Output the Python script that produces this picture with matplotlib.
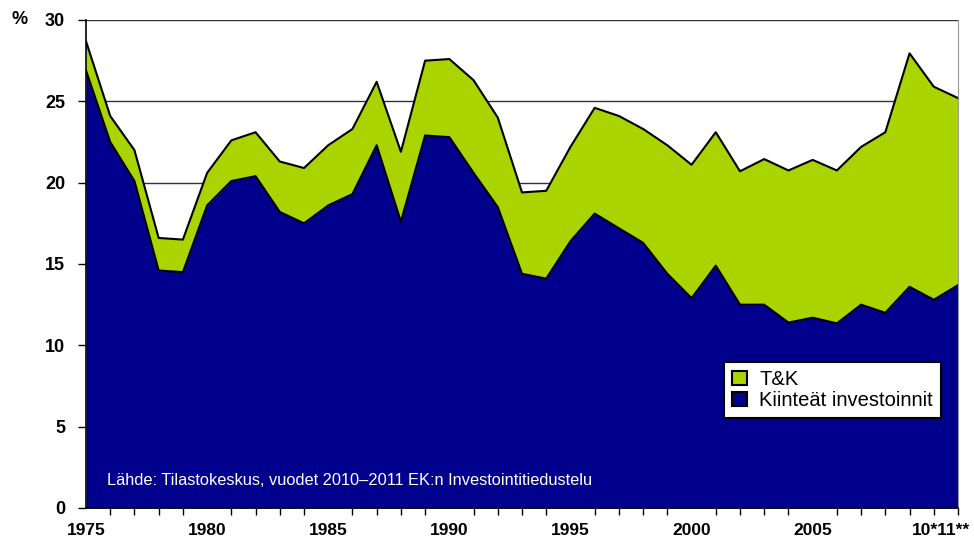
import numpy as np
import matplotlib.pyplot as plt

# vuodet 1975-2011, osuudet % (luettu kuvasta)
years = np.arange(1975, 2012)
kiinteat = [26.9, 22.5, 20.1, 14.6, 14.5, 18.6, 20.1, 20.4, 18.2, 17.5,
            18.6, 19.3, 22.3, 17.6, 22.9, 22.8, 20.6, 18.5, 14.4, 14.1,
            16.4, 18.1, 17.2, 16.3, 14.4, 12.9, 14.9, 12.5, 12.5, 11.4,
            11.7, 11.35, 12.5, 12.0, 13.6, 12.8, 13.7]
tk = [1.8, 1.6, 1.9, 2.0, 2.0, 2.0, 2.5, 2.7, 3.1, 3.4,
      3.7, 4.0, 3.9, 4.3, 4.6, 4.8, 5.7, 5.5, 5.0, 5.4,
      5.8, 6.5, 6.9, 7.0, 7.9, 8.2, 8.2, 8.2, 8.95, 9.35,
      9.7, 9.4, 9.7, 11.1, 14.35, 13.1, 11.5]
tick_years = [1975, 1980, 1985, 1990, 1995, 2000, 2005, 2010.3]
tick_labels = ['1975', '1980', '1985', '1990', '1995', '2000', '2005', '10*11**']
y_ticks = [0, 5, 10, 15, 20, 25, 30]

blue = '#00008C'
green = '#A9D400'
total = np.array(kiinteat) + np.array(tk)

plt.rcParams['font.family'] = ['Liberation Sans', 'DejaVu Sans']
fig = plt.figure(figsize=(9.74, 5.41), dpi=100)
ax = fig.add_axes([86/974, 1-508/541, (958-86)/974, (508-20)/541])

ax.fill_between(years, kiinteat, total, color=green, lw=0, label='T&K', zorder=2)
ax.fill_between(years, 0, kiinteat, color=blue, lw=0, label='Kiinteät investoinnit', zorder=2)
ax.plot(years, total, color='black', lw=1.5, zorder=3)
ax.plot(years, kiinteat, color='black', lw=1.5, zorder=3)

ax.set_xlim(1975, 2011)
ax.set_ylim(0, 30)
ax.set_yticks(y_ticks)
ax.set_yticklabels([str(v) for v in y_ticks], fontsize=13, fontweight='bold')
ax.yaxis.grid(True, color='#333333', lw=1)
ax.set_axisbelow(True)

ax.set_xticks(years, minor=True)
ax.set_xticks(tick_years)
ax.set_xticklabels(tick_labels, fontsize=12.5, fontweight='bold')
ax.tick_params(axis='x', which='major', length=0, pad=11)
ax.tick_params(axis='x', which='minor', length=5, width=1, direction='out')
ax.tick_params(axis='y', length=6, width=1, direction='out', pad=9)

ax.spines['top'].set_visible(False)
ax.spines['right'].set_color('#999999')
ax.spines['left'].set_linewidth(1.2)
ax.spines['bottom'].set_linewidth(1.2)

fig.text(12/974, 1-20/541, '%', fontsize=13, fontweight='bold', ha='left', va='center')
ax.text(1975.85, 1.7, 'Lähde: Tilastokeskus, vuodet 2010–2011 EK:n Investointitiedustelu',
        color='white', fontsize=11.8, va='center', ha='left', zorder=4)

leg = ax.legend(loc='lower right', bbox_to_anchor=((941-86)/872, (508-418)/488),
                frameon=True, fancybox=False, fontsize=14.5, handlelength=0.75,
                handleheight=0.75, handletextpad=0.6, borderpad=0.4, labelspacing=0.1,
                borderaxespad=0, framealpha=1)
leg.get_frame().set_edgecolor('black')
leg.get_frame().set_facecolor('white')
leg.get_frame().set_linewidth(1.5)
for h in leg.legend_handles:
    h.set_edgecolor('black')
    h.set_linewidth(1.5)

fig.savefig('out.png', dpi=100)
